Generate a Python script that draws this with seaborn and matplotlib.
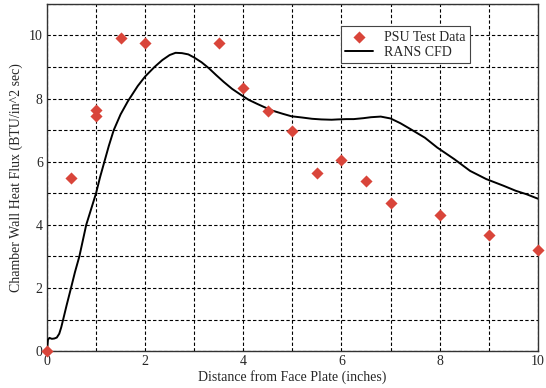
import matplotlib
matplotlib.use("Agg")
import matplotlib.pyplot as plt
import seaborn as sns
import pandas as pd
from matplotlib.ticker import MultipleLocator

# PSU test data
psu_x = [0.0, 0.5, 1.0, 1.0, 1.5, 2.0, 3.5, 4.0, 4.5, 5.0, 5.5, 6.0, 6.5, 7.0, 8.0, 9.0, 10.0]
psu_y = [0.0, 5.47, 7.63, 7.45, 9.93, 9.75, 9.75, 8.35, 7.62, 6.98, 5.65, 6.07, 5.40, 4.68, 4.32, 3.69, 3.19]

# RANS CFD curve
cfd_x = [0.0, 0.02, 0.05, 0.10, 0.15, 0.20, 0.25, 0.29, 0.33, 0.40, 0.49, 0.57, 0.66, 0.73,
         0.80, 0.90, 1.00, 1.08, 1.17, 1.26, 1.36, 1.50, 1.65, 1.85, 2.00, 2.19, 2.35, 2.50,
         2.62, 2.75, 2.88, 3.00, 3.15, 3.30, 3.45, 3.60, 3.77, 3.95, 4.11, 4.30, 4.57, 4.80,
         4.98, 5.20, 5.40, 5.59, 5.80, 5.92, 6.10, 6.25, 6.45, 6.60, 6.80, 7.00, 7.20, 7.41,
         7.70, 7.95, 8.30, 8.62, 8.95, 9.30, 9.55, 9.77, 10.0]
cfd_y = [0.02, 0.36, 0.42, 0.39, 0.40, 0.43, 0.55, 0.75, 1.00, 1.45, 2.00, 2.50, 3.00, 3.50,
         4.00, 4.50, 5.00, 5.50, 6.00, 6.50, 7.00, 7.50, 7.92, 8.40, 8.70, 9.00, 9.22, 9.38,
         9.45, 9.44, 9.40, 9.30, 9.15, 8.96, 8.74, 8.53, 8.31, 8.12, 7.96, 7.82, 7.63, 7.52,
         7.44, 7.40, 7.36, 7.34, 7.33, 7.34, 7.35, 7.35, 7.38, 7.41, 7.43, 7.37, 7.22, 7.03,
         6.76, 6.45, 6.08, 5.71, 5.45, 5.24, 5.08, 4.97, 4.83]

sns.set_style("white")
plt.rcParams['font.family'] = ['Liberation Serif', 'DejaVu Serif']

fig = plt.figure(figsize=(5.46, 3.88), dpi=100)
ax = fig.add_axes([0.086, 0.095, 0.899, 0.895])

psu = pd.DataFrame({"x": psu_x, "y": psu_y})
cfd = pd.DataFrame({"x": cfd_x, "y": cfd_y})

sns.lineplot(data=cfd, x="x", y="y", ax=ax, color="black", linewidth=1.4,
             label="RANS CFD", sort=False, zorder=3)
sns.scatterplot(data=psu, x="x", y="y", ax=ax, marker="D", color="#d9453a", s=38,
                edgecolor="#d9453a", linewidth=0, label="PSU Test Data", zorder=4, clip_on=False)

ax.set_xlim(0, 10)
ax.set_ylim(0, 11)
ax.xaxis.set_major_locator(MultipleLocator(2))
ax.xaxis.set_minor_locator(MultipleLocator(1))
ax.yaxis.set_major_locator(MultipleLocator(2))
ax.yaxis.set_minor_locator(MultipleLocator(1))
ax.grid(True, which="both", color="black", linestyle=(0, (3, 2)), linewidth=0.8)
ax.tick_params(which="both", length=0, labelsize=10, pad=3)
for s in ax.spines.values():
    s.set_color("#333333")
    s.set_linewidth(1.0)

ax.set_xlabel("Distance from Face Plate (inches)", fontsize=10, labelpad=1)
ax.set_ylabel("Chamber Wall Heat Flux (BTU/in^2 sec)", fontsize=10, labelpad=4)

handles, labels = ax.get_legend_handles_labels()
order = [labels.index("PSU Test Data"), labels.index("RANS CFD")]
leg = ax.legend([handles[i] for i in order], [labels[i] for i in order],
                loc="upper left", bbox_to_anchor=(0.585, 0.955), frameon=True,
                fancybox=False, edgecolor="#444444", framealpha=1, fontsize=10,
                borderpad=0.3, labelspacing=0.15, handlelength=2.0, handletextpad=0.8)
leg.get_frame().set_linewidth(0.8)

fig.savefig("out.png", dpi=100)
